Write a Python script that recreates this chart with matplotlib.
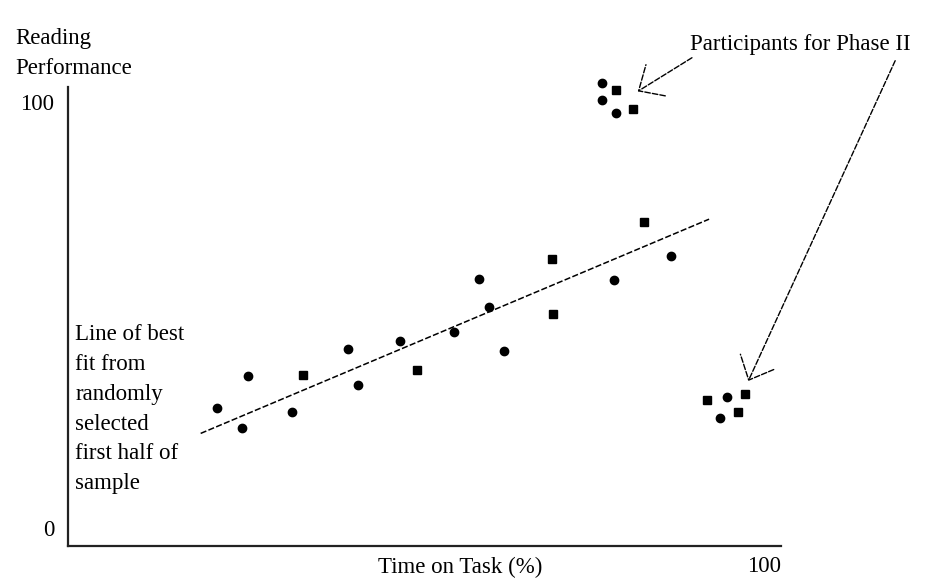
import matplotlib
matplotlib.use('Agg')
import matplotlib.pyplot as plt

# Sample used for the line of best fit (first half, random selection)
fit_circle_x = [20.9, 24.4, 25.2, 31.4, 39.3, 40.7, 46.5, 54.1, 57.6, 59.1, 61.2, 76.6, 84.5]
fit_circle_y = [28.2, 23.4, 35.6, 27.3, 41.9, 33.6, 44.0, 45.9, 58.5, 51.8, 41.5, 58.1, 63.9]
fit_square_x = [33.0, 48.9, 67.9, 68.0, 80.8]
fit_square_y = [35.8, 37.0, 63.2, 50.2, 71.8]

# Line of best fit end points
line_x = [18.6, 89.9]
line_y = [22.2, 72.5]

# Outliers picked for Phase II: high performers
high_circle_x = [74.9, 74.9, 76.9]
high_circle_y = [104.5, 100.5, 97.5]
high_square_x = [76.9, 79.2]
high_square_y = [102.8, 98.4]

# Outliers picked for Phase II: low performers
low_circle_x = [92.4, 91.5]
low_circle_y = [30.8, 25.8]
low_square_x = [89.6, 94.0, 95.0]
low_square_y = [30.0, 27.3, 31.5]

y_ticks = [0, 100]
x_ticks = [100]

FONT = 'Liberation Serif'
FS = 16.5

fig = plt.figure(figsize=(9.27, 5.78), dpi=100)
ax = fig.add_axes([0.0734, 0.0554, 0.7692, 0.7946])

ax.plot(line_x, line_y, color='black', lw=1.1, ls=(0, (4, 1.5)))

for xs, ys in [(fit_circle_x, fit_circle_y), (high_circle_x, high_circle_y), (low_circle_x, low_circle_y)]:
    ax.plot(xs, ys, 'o', color='black', ms=6, clip_on=False)
for xs, ys in [(fit_square_x, fit_square_y), (high_square_x, high_square_y), (low_square_x, low_square_y)]:
    ax.plot(xs, ys, 's', color='black', ms=5.5, clip_on=False)

ax.set_xlim(0, 100)
ax.set_ylim(-4.23, 103.6)

for side in ['top', 'right']:
    ax.spines[side].set_visible(False)
for side in ['left', 'bottom']:
    ax.spines[side].set_linewidth(1.6)
    ax.spines[side].set_color('#222222')

ax.set_yticks(y_ticks)
ax.set_yticklabels([str(t) for t in y_ticks], fontfamily=FONT, fontsize=FS)
ax.set_xticks(x_ticks)
ax.set_xticklabels([str(t) for t in x_ticks], fontfamily=FONT, fontsize=FS, ha='right')
ax.tick_params(axis='y', length=0, pad=10)
ax.tick_params(axis='x', length=0, pad=7)

ax.set_xlabel('Time on Task (%)', fontfamily=FONT, fontsize=FS)
ax.xaxis.set_label_coords(0.55, -0.024)

fig.text(0.016, 0.9075, 'Reading\nPerformance', fontfamily=FONT, fontsize=FS,
         ha='left', va='center', linespacing=1.55)

ax.text(1.0, 27.9, 'Line of best\nfit from\nrandomly\nselected\nfirst half of\nsample',
        fontfamily=FONT, fontsize=FS, ha='left', va='center', linespacing=1.55)

# Callout for the Phase II participants
ax.text(87.2, 113.4, 'Participants for Phase II', fontfamily=FONT, fontsize=FS,
        ha='left', va='center', clip_on=False)
arrow_kw = dict(arrowstyle='->, head_length=1.2, head_width=1.1', color='black',
                lw=1.0, ls=(0, (4, 1.5)), shrinkA=0, shrinkB=0, mutation_scale=12)
ax.annotate('', xy=(79.9, 102.5), xytext=(87.5, 110.4), arrowprops=arrow_kw,
            annotation_clip=False)
ax.annotate('', xy=(95.4, 34.5), xytext=(116.0, 109.7), arrowprops=arrow_kw,
            annotation_clip=False)

fig.savefig('out.png', dpi=100)
